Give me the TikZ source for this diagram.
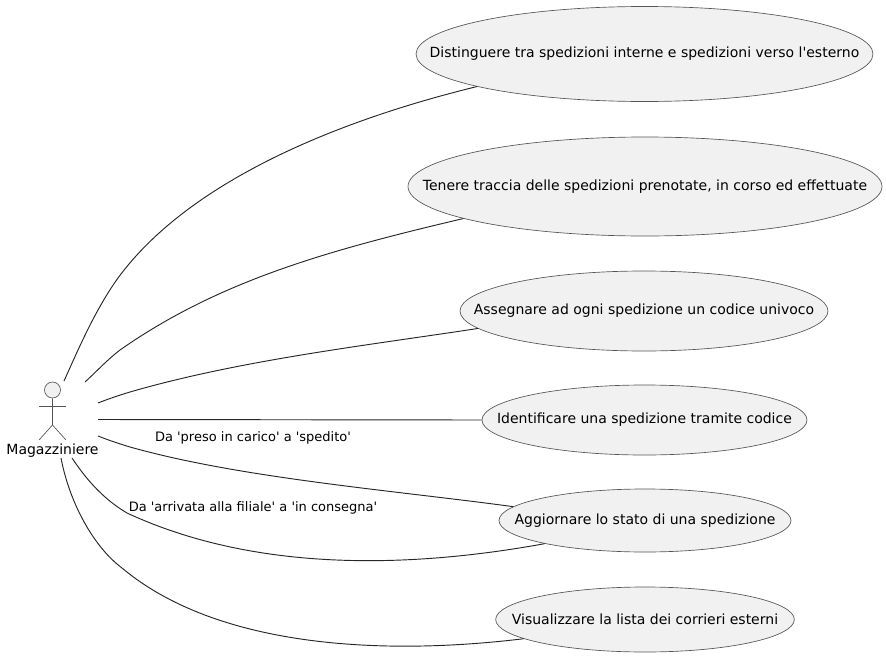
\documentclass[tikz,border=0pt]{standalone}
\usepackage{fontspec}
\newfontfamily\dvs{DejaVu Sans}
\usetikzlibrary{shapes.geometric}
\definecolor{ufill}{HTML}{F1F1F1}
\definecolor{ustroke}{HTML}{555555}
\newcommand{\uctext}[1]{\makebox[0pt]{\raisebox{-0.75pt}{#1}}}
\tikzset{
  usecase/.style={ellipse,draw=ustroke,fill=ufill,line width=0.5pt,inner sep=0pt,font=\dvs\fontsize{10.5pt}{12pt}\selectfont},
  conn/.style={draw=black!85,line width=0.7pt},
  lbl/.style={font=\dvs\fontsize{9.75pt}{12pt}\selectfont,inner sep=0pt},
  stick/.style={draw=ustroke,line width=0.5pt},
}
\begin{document}
\begin{tikzpicture}[x=0.75pt,y=-0.75pt]
\useasboundingbox (0,0) rectangle (886,657);
\node[usecase,minimum width=342.75pt,minimum height=71.25pt] (u1) at (644.5,54) {\uctext{Distinguere tra spedizioni interne e spedizioni verso l'esterno}};
\node[usecase,minimum width=355.5pt,minimum height=74.25pt] (u2) at (645,186.5) {\uctext{Tenere traccia delle spedizioni prenotate, in corso ed effettuate}};
\node[usecase,minimum width=276pt,minimum height=60pt] (u3) at (644,311) {\uctext{Assegnare ad ogni spedizione un codice univoco}};
\node[usecase,minimum width=243.75pt,minimum height=52.5pt] (u4) at (644.5,420) {\uctext{Identificare una spedizione tramite codice}};
\node[usecase,minimum width=219pt,minimum height=47.25pt] (u5) at (645,520.5) {\uctext{Aggiornare lo stato di una spedizione}};
\node[usecase,minimum width=224pt,minimum height=48.75pt] (u6) at (645,619.5) {\uctext{Visualizzare la lista dei corrieri esterni}};
% actor
\node[circle,draw=ustroke,fill=ufill,line width=0.5pt,minimum size=12pt,inner sep=0pt] (head) at (52.5,390) {};
\coordinate (hip) at (52.5,425);
\coordinate (armL) at (39,406);
\coordinate (armR) at (66,406);
\coordinate (legL) at (39,440);
\coordinate (legR) at (66,440);
\draw[stick] (head.south) -- (hip) -- (legL);
\draw[stick] (hip) -- (legR);
\draw[stick] (armL) -- (armR);
\node[font=\dvs\fontsize{10.5pt}{12pt}\selectfont,inner sep=0pt] (actor) at (52.5,451) {Magazziniere};
% free ends
\coordinate (s1) at (64,381);
\coordinate (s2) at (85,382);
\coordinate (s3) at (98,403);
\coordinate (s4) at (98,419.5);
\coordinate (s5) at (98,436);
\coordinate (s6) at (72,458);
\coordinate (s7) at (61,458);
% connectors
\path[conn] (s1) .. controls (78,350) and (95,310) .. (118,278) .. controls (190,180) and (340,120) .. (u1.191.3);
\path[conn] (s2) .. controls (96,372) and (107,360) .. (120,350) .. controls (220,280) and (330,250) .. (u2.190.2);
\path[conn] (s3) .. controls (108,399) and (120,395) .. (130,392) .. controls (240,360) and (370,345) .. (u3.186.8);
\path[conn] (s4) -- (u4.west);
\path[conn] (s5) .. controls (108,440) and (120,444) .. (130,447) .. controls (240,478) and (390,490) .. (u5.174.4);
\path[conn] (s6) .. controls (88,482) and (105,500) .. (127,513) .. controls (250,570) and (400,570) .. (u5.193.2);
\path[conn] (s7) .. controls (70,505) and (95,548) .. (122,568) .. controls (220,650) and (390,655) .. (u6.189.2);
% labels
\node[lbl] (l1) at (253,438) {Da 'preso in carico' a 'spedito'};
\node[lbl] (l2) at (253,508) {Da 'arrivata alla filiale' a 'in consegna'};
\end{tikzpicture}
\end{document}
